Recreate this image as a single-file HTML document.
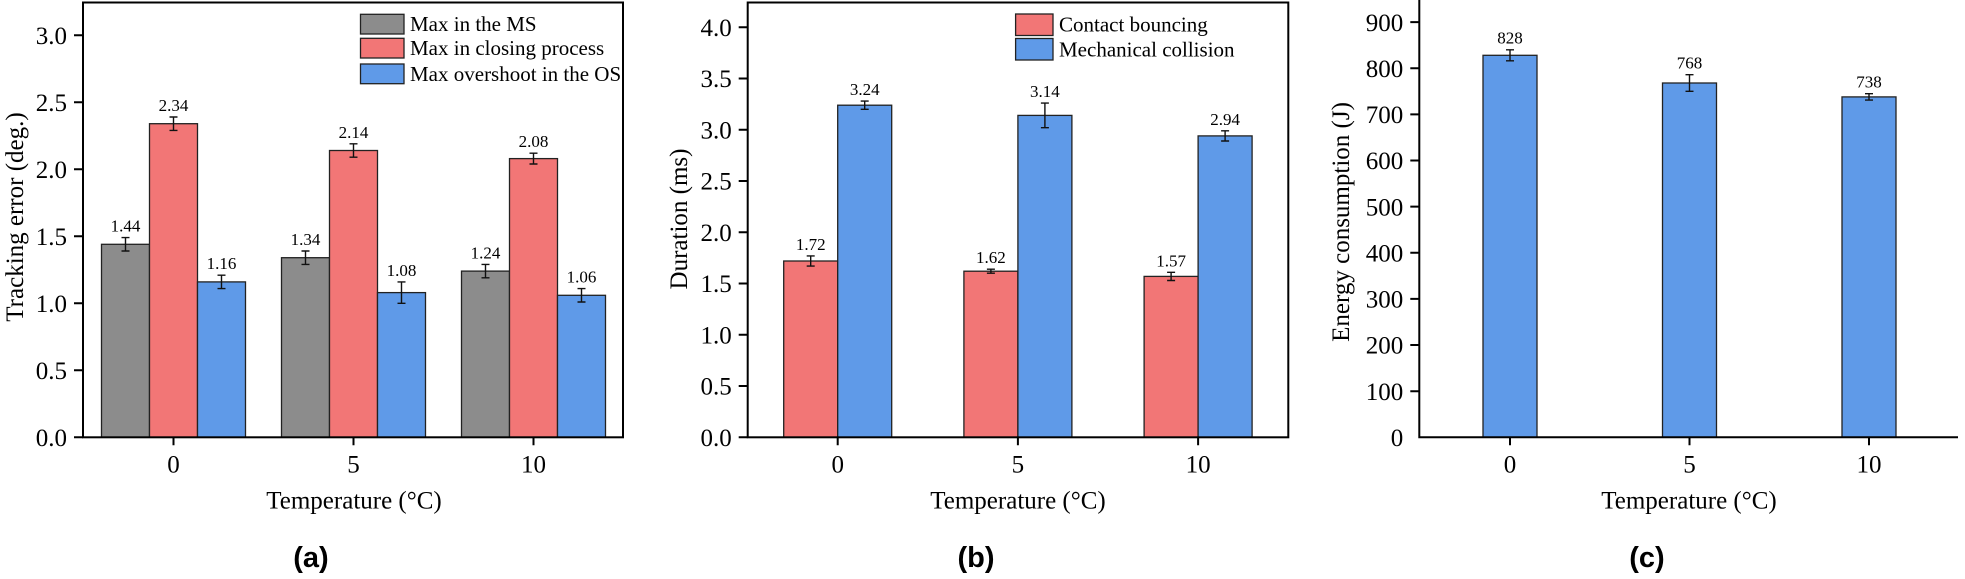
<!DOCTYPE html>
<html><head><meta charset="utf-8"><style>
html,body{margin:0;padding:0;background:#fff;}
svg{display:block;}
text{font-family:"Liberation Serif",serif;fill:#000;}
.t{font-size:25px;}
.v{font-size:17px;text-anchor:middle;}
.lg{font-size:21px;}
.p{font-family:"Liberation Sans",sans-serif;font-weight:bold;font-size:29px;text-anchor:middle;}
.g{fill:#8c8c8c;stroke:#222;stroke-width:1.3}
.r{fill:#f27676;stroke:#222;stroke-width:1.3}
.b{fill:#5f9ae8;stroke:#222;stroke-width:1.3}
.e{stroke:#111;stroke-width:1.4;fill:none}
.ax{stroke:#000;stroke-width:2;fill:none}
</style></head><body>
<svg width="1965" height="579" viewBox="0 0 1965 579" xmlns="http://www.w3.org/2000/svg">
<!-- Panel A -->
<rect x="101.5" y="244.3" width="48" height="193" class="g"/>
<rect x="149.5" y="123.7" width="48" height="313.6" class="r"/>
<rect x="197.5" y="281.9" width="48" height="155.4" class="b"/>
<rect x="281.5" y="257.7" width="48" height="179.6" class="g"/>
<rect x="329.5" y="150.5" width="48" height="286.8" class="r"/>
<rect x="377.5" y="292.6" width="48" height="144.7" class="b"/>
<rect x="461.5" y="271.1" width="48" height="166.2" class="g"/>
<rect x="509.5" y="158.6" width="48" height="278.7" class="r"/>
<rect x="557.5" y="295.3" width="48" height="142" class="b"/>
<path class="e" d="M125.5 237.6V251M121.5 237.6h8M121.5 251h8 M173.5 117V130.4M169.5 117h8M169.5 130.4h8 M221.5 275.2V288.6M217.5 275.2h8M217.5 288.6h8
M305.5 251V264.4M301.5 251h8M301.5 264.4h8 M353.5 143.8V157.2M349.5 143.8h8M349.5 157.2h8 M401.5 281.9V303.3M397.5 281.9h8M397.5 303.3h8
M485.5 264.4V277.8M481.5 264.4h8M481.5 277.8h8 M533.5 153.2V164M529.5 153.2h8M529.5 164h8 M581.5 288.6V302M577.5 288.6h8M577.5 302h8"/>
<text class="v" x="125.5" y="231.6">1.44</text>
<text class="v" x="173.5" y="111">2.34</text>
<text class="v" x="221.5" y="269.2">1.16</text>
<text class="v" x="305.5" y="245">1.34</text>
<text class="v" x="353.5" y="137.8">2.14</text>
<text class="v" x="401.5" y="275.9">1.08</text>
<text class="v" x="485.5" y="258.4">1.24</text>
<text class="v" x="533.5" y="147.2">2.08</text>
<text class="v" x="581.5" y="282.6">1.06</text>
<rect x="83" y="2.5" width="540" height="434.8" class="ax"/>
<path class="ax" d="M74 437.3h9M74 370.3h9M74 303.3h9M74 236.3h9M74 169.3h9M74 102.3h9M74 35.3h9 M173.5 437.3v8M353.5 437.3v8M533.5 437.3v8"/>
<g class="t" text-anchor="end">
<text x="67" y="446">0.0</text><text x="67" y="379">0.5</text><text x="67" y="312">1.0</text><text x="67" y="245">1.5</text><text x="67" y="178">2.0</text><text x="67" y="111">2.5</text><text x="67" y="44">3.0</text>
</g>
<g class="t" text-anchor="middle">
<text x="173.5" y="472.5">0</text><text x="353.5" y="472.5">5</text><text x="533.5" y="472.5">10</text>
<text x="354" y="508.3">Temperature (°C)</text>
</g>
<text class="t" text-anchor="middle" transform="translate(23 217) rotate(-90)">Tracking error (deg.)</text>
<rect x="360.5" y="14.3" width="43.5" height="19.7" class="g"/>
<rect x="360.5" y="38.3" width="43.5" height="19.7" class="r"/>
<rect x="360.5" y="64" width="43.5" height="19.7" class="b"/>
<text class="lg" x="410" y="31">Max in the MS</text>
<text class="lg" x="410" y="55">Max in closing process</text>
<text class="lg" x="410" y="81">Max overshoot in the OS</text>
<text class="p" x="311" y="567">(a)</text>

<!-- Panel B -->
<rect x="783.7" y="261" width="54" height="176.3" class="r"/>
<rect x="837.7" y="105.2" width="54" height="332.1" class="b"/>
<rect x="963.9" y="271.2" width="54" height="166.1" class="r"/>
<rect x="1017.9" y="115.4" width="54" height="321.9" class="b"/>
<rect x="1144.1" y="276.4" width="54" height="160.9" class="r"/>
<rect x="1198.1" y="135.9" width="54" height="301.4" class="b"/>
<path class="e" d="M810.7 255.9V266.1M806.7 255.9h8M806.7 266.1h8 M864.7 101.1V109.3M860.7 101.1h8M860.7 109.3h8
M990.9 269.2V273.2M986.9 269.2h8M986.9 273.2h8 M1044.9 103.1V127.7M1040.9 103.1h8M1040.9 127.7h8
M1171.1 272.3V280.5M1167.1 272.3h8M1167.1 280.5h8 M1225.1 130.8V141M1221.1 130.8h8M1221.1 141h8"/>
<text class="v" x="810.7" y="249.9">1.72</text>
<text class="v" x="864.7" y="95.1">3.24</text>
<text class="v" x="990.9" y="263.2">1.62</text>
<text class="v" x="1044.9" y="97.1">3.14</text>
<text class="v" x="1171.1" y="266.3">1.57</text>
<text class="v" x="1225.1" y="124.8">2.94</text>
<rect x="747.7" y="2.5" width="540.6" height="434.8" class="ax"/>
<path class="ax" d="M738.7 437.3h9M738.7 386.05h9M738.7 334.8h9M738.7 283.55h9M738.7 232.3h9M738.7 181.05h9M738.7 129.8h9M738.7 78.55h9M738.7 27.3h9 M837.7 437.3v8M1017.9 437.3v8M1198.1 437.3v8"/>
<g class="t" text-anchor="end">
<text x="731.7" y="446">0.0</text><text x="731.7" y="394.7">0.5</text><text x="731.7" y="343.5">1.0</text><text x="731.7" y="292.2">1.5</text><text x="731.7" y="241">2.0</text><text x="731.7" y="189.7">2.5</text><text x="731.7" y="138.5">3.0</text><text x="731.7" y="87.2">3.5</text><text x="731.7" y="36">4.0</text>
</g>
<g class="t" text-anchor="middle">
<text x="837.7" y="472.5">0</text><text x="1017.9" y="472.5">5</text><text x="1198.1" y="472.5">10</text>
<text x="1018" y="508.3">Temperature (°C)</text>
</g>
<text class="t" text-anchor="middle" transform="translate(687 219) rotate(-90)">Duration (ms)</text>
<rect x="1015.6" y="14" width="37.4" height="21.5" class="r"/>
<rect x="1015.6" y="38.5" width="37.4" height="21.5" class="b"/>
<text class="lg" x="1059" y="31.5">Contact bouncing</text>
<text class="lg" x="1059" y="56.5">Mechanical collision</text>
<text class="p" x="976" y="567">(b)</text>

<!-- Panel C -->
<rect x="1483" y="55.3" width="54" height="382" class="b"/>
<rect x="1662.5" y="83" width="54" height="354.3" class="b"/>
<rect x="1842" y="96.9" width="54" height="340.4" class="b"/>
<path class="e" d="M1510 49.8V60.8M1506 49.8h8M1506 60.8h8 M1689.5 74.7V91.3M1685.5 74.7h8M1685.5 91.3h8 M1869 93.7V100.1M1865 93.7h8M1865 100.1h8"/>
<text class="v" x="1510" y="43.5">828</text>
<text class="v" x="1689.5" y="68.5">768</text>
<text class="v" x="1869" y="87.5">738</text>
<path class="ax" d="M1419.3 0V437.3H1958"/>
<path class="ax" d="M1410.3 391.2h9M1410.3 345h9M1410.3 298.9h9M1410.3 252.8h9M1410.3 206.6h9M1410.3 160.5h9M1410.3 114.4h9M1410.3 68.3h9M1410.3 22.1h9 M1510 437.3v8M1689.5 437.3v8M1869 437.3v8"/>
<g class="t" text-anchor="end">
<text x="1403.3" y="446">0</text><text x="1403.3" y="399.9">100</text><text x="1403.3" y="353.7">200</text><text x="1403.3" y="307.6">300</text><text x="1403.3" y="261.5">400</text><text x="1403.3" y="215.3">500</text><text x="1403.3" y="169.2">600</text><text x="1403.3" y="123.1">700</text><text x="1403.3" y="77">800</text><text x="1403.3" y="30.8">900</text>
</g>
<g class="t" text-anchor="middle">
<text x="1510" y="472.5">0</text><text x="1689.5" y="472.5">5</text><text x="1869" y="472.5">10</text>
<text x="1689" y="508.3">Temperature (°C)</text>
</g>
<text class="t" text-anchor="middle" transform="translate(1349 222) rotate(-90)">Energy consumption (J)</text>
<text class="p" x="1647" y="567">(c)</text>
</svg>
</body></html>
